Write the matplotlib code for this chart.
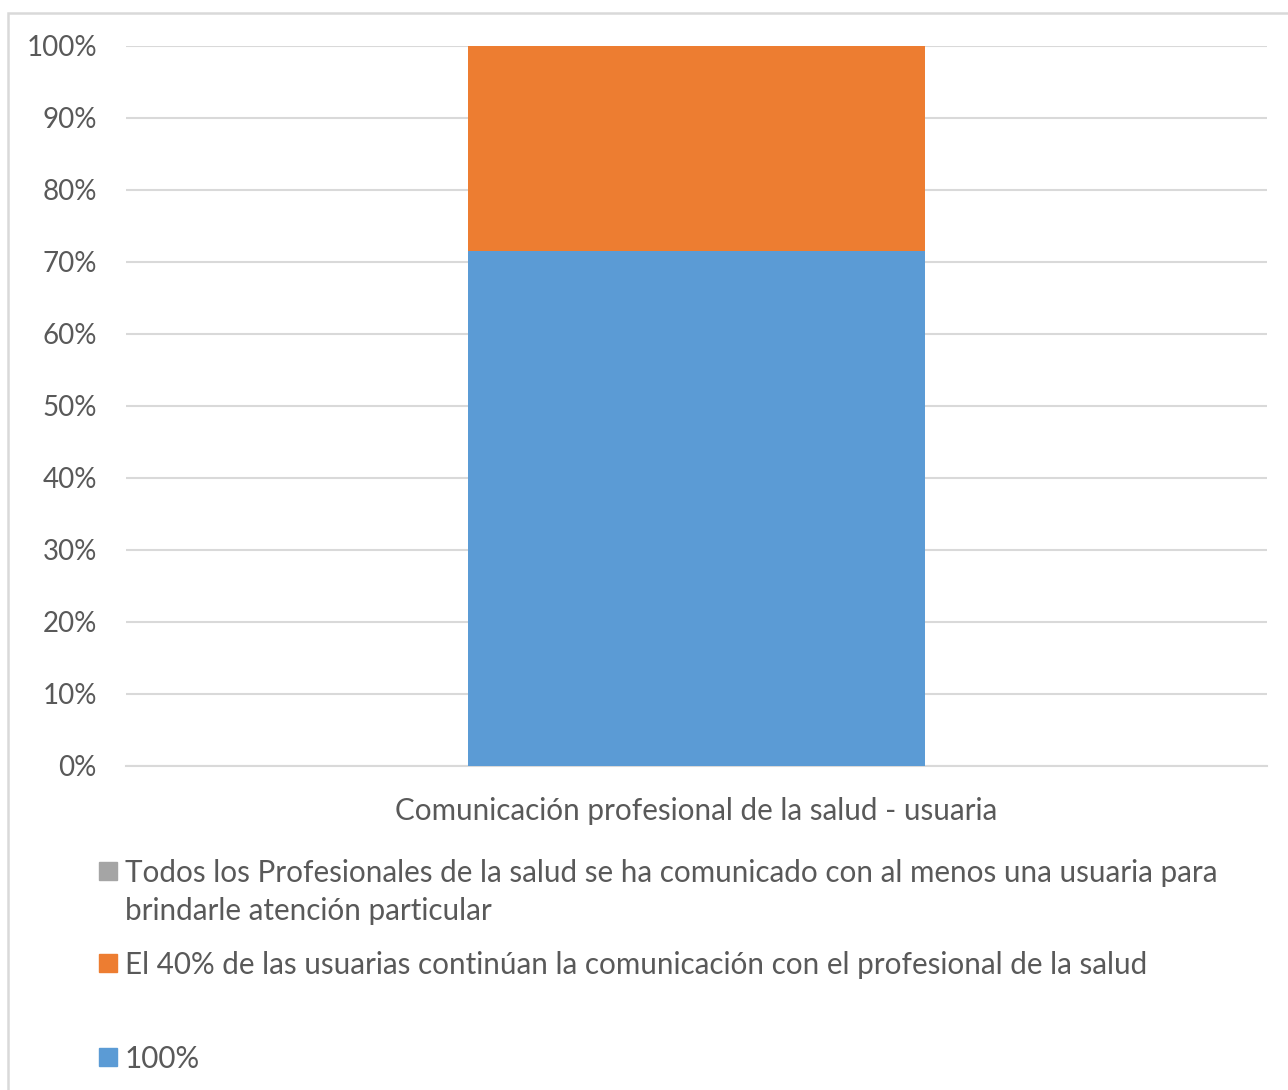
import matplotlib
matplotlib.use("Agg")
import matplotlib.pyplot as plt
from matplotlib.patches import Rectangle
from matplotlib.ticker import PercentFormatter

plt.rcParams['font.family'] = ['Lato', 'DejaVu Sans']

categoria = ['Comunicación profesional de la salud - usuaria']
series = ['100%',
          'El 40% de las usuarias continúan la comunicación con el profesional de la salud',
          'Todos los Profesionales de la salud se ha comunicado con al menos una usuaria para\nbrindarle atención particular']
valores = [71.5, 28.5, 0.0]
colores = ['#5b9bd5', '#ed7d31', '#a5a5a5']

gris = '#595959'
W, H = 1288, 1090

fig = plt.figure(figsize=(W / 100, H / 100), dpi=100)
ax = fig.add_axes([126 / W, 1 - 766 / H, (1267 - 126) / W, (766 - 46) / H])

base = 0
for nombre, v, c in zip(series, valores, colores):
    ax.bar(categoria, [v], bottom=[base], width=0.4, color=c, label=nombre, zorder=3)
    base += v

ax.set_xlim(-0.5, 0.5)
ax.set_ylim(0, 100)
ax.set_yticks(range(0, 101, 10))
ax.yaxis.set_major_formatter(PercentFormatter(decimals=0))
ax.grid(axis='y', color='#d9d9d9', linewidth=1.5, zorder=0)
for s in ['top', 'right', 'left']:
    ax.spines[s].set_visible(False)
ax.spines['bottom'].set_color('#d9d9d9')
ax.spines['bottom'].set_linewidth(1.5)
ax.tick_params(axis='both', length=0, colors=gris, labelsize=20)
ax.tick_params(axis='y', pad=21)
ax.tick_params(axis='x', pad=22.5, labelsize=21.3)

# leyenda a mano (orden inverso, como Excel); primera linea de cada entrada en y
lineas_y = [1057, 963, 871]
for nombre, c, y in zip(series, colores, lineas_y):
    fig.patches.append(Rectangle((99 / W, 1 - (y + 9) / H), 18 / W, 18 / H,
                                 transform=fig.transFigure, color=c))
    for i, linea in enumerate(nombre.split('\n')):
        fig.text(125 / W, 1 - (y + 2 + 38 * i) / H, linea, fontsize=21.3,
                 color=gris, va='center', ha='left')

# marco del grafico
fig.patches.append(Rectangle((8 / W, -0.05), 1.1, (H - 13) / H + 0.05,
                             transform=fig.transFigure, fill=False,
                             edgecolor='#d9d9d9', linewidth=1.8))

fig.savefig('out.png', dpi=100)
